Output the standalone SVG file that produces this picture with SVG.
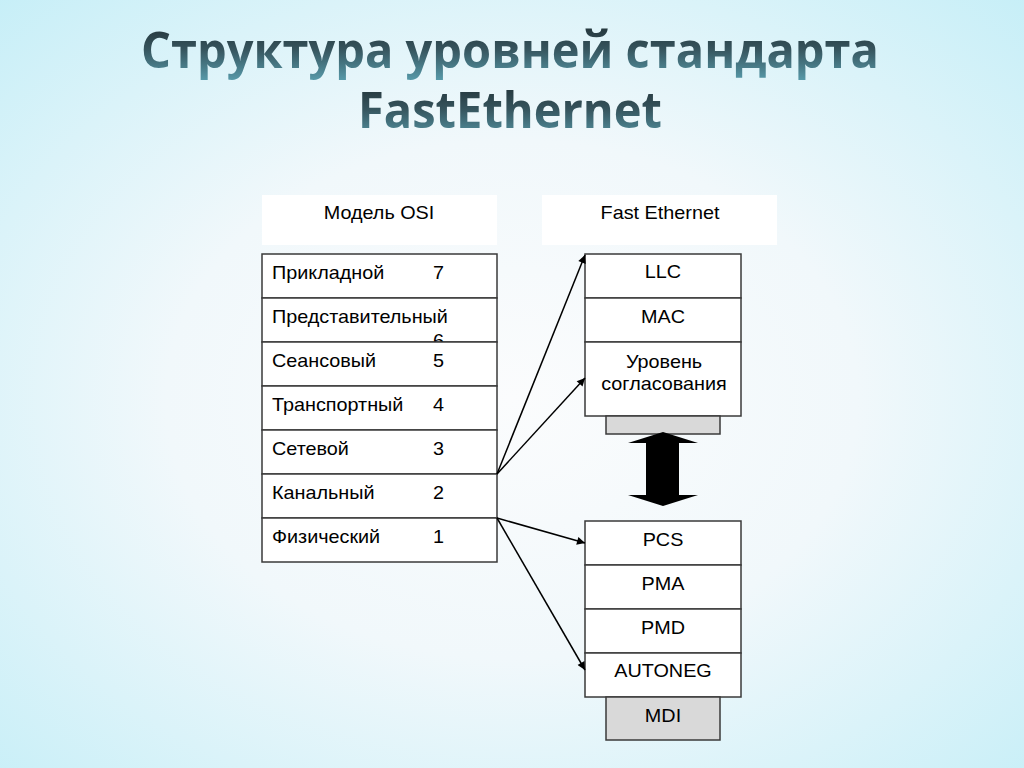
<svg xmlns="http://www.w3.org/2000/svg" width="1024" height="768" viewBox="0 0 1024 768">
<defs>
<radialGradient id="bg" cx="50%" cy="52%" r="75%">
<stop offset="0" stop-color="#fbfcfd"/>
<stop offset="0.45" stop-color="#f1f8fb"/>
<stop offset="1" stop-color="#c4eef7"/>
</radialGradient>
<linearGradient id="tg" x1="0" y1="0" x2="0" y2="1">
<stop offset="0" stop-color="#1c272b"/>
<stop offset="0.5" stop-color="#36545d"/>
<stop offset="1" stop-color="#5aa0b0"/>
</linearGradient>
<marker id="ah" viewBox="0 0 10 10" refX="10" refY="5" markerWidth="10" markerHeight="8" markerUnits="userSpaceOnUse" orient="auto">
<path d="M0,0 L10,5 L0,10 Z" fill="#000"/>
</marker>
<style>
.title{font-family:"Open Sans","DejaVu Sans",sans-serif;font-weight:bold;font-size:50px;fill:url(#tg)}
.box{fill:#fff;stroke:#3a3a3a;stroke-width:1.5}
.gray{fill:#d9d9d9;stroke:#3a3a3a;stroke-width:1.5}
.hdr{fill:#fff}
.t{font-family:"Liberation Sans",Arial,sans-serif;font-size:18px;fill:#000}
.c{text-anchor:middle}
.conn{stroke:#000;stroke-width:1.5;fill:none}
</style>
</defs>
<rect x="0" y="0" width="1024" height="768" fill="url(#bg)"/>
<g id="title">
<text class="title" x="510" y="68" text-anchor="middle" textLength="738" lengthAdjust="spacingAndGlyphs">Структура уровней стандарта</text>
<text class="title" x="510" y="128" text-anchor="middle" textLength="304" lengthAdjust="spacingAndGlyphs">FastEthernet</text>
</g>
<g id="hdr-osi">
<rect class="hdr" x="262" y="195" width="235" height="50"/>
<text class="t c" transform="translate(379,219) scale(1.1,1)">Модель OSI</text>
</g>
<g id="hdr-fe">
<rect class="hdr" x="542" y="195" width="235" height="50"/>
<text class="t c" transform="translate(660,219) scale(1.1,1)">Fast Ethernet</text>
</g>
<g id="osi-7"><rect class="box" x="262" y="254" width="235" height="44"/><text class="t" transform="translate(272,279) scale(1.1,1)">Прикладной</text><text class="t" transform="translate(433,279) scale(1.1,1)">7</text></g>
<g id="osi-6"><rect class="box" x="262" y="298" width="235" height="44"/><text class="t" transform="translate(272,323) scale(1.1,1)">Представительный</text><text class="t" transform="translate(433,347) scale(1.1,1)">6</text></g>
<g id="osi-5"><rect class="box" x="262" y="342" width="235" height="44"/><text class="t" transform="translate(272,367) scale(1.1,1)">Сеансовый</text><text class="t" transform="translate(433,367) scale(1.1,1)">5</text></g>
<g id="osi-4"><rect class="box" x="262" y="386" width="235" height="44"/><text class="t" transform="translate(272,411) scale(1.1,1)">Транспортный</text><text class="t" transform="translate(433,411) scale(1.1,1)">4</text></g>
<g id="osi-3"><rect class="box" x="262" y="430" width="235" height="44"/><text class="t" transform="translate(272,455) scale(1.1,1)">Сетевой</text><text class="t" transform="translate(433,455) scale(1.1,1)">3</text></g>
<g id="osi-2"><rect class="box" x="262" y="474" width="235" height="44"/><text class="t" transform="translate(272,499) scale(1.1,1)">Канальный</text><text class="t" transform="translate(433,499) scale(1.1,1)">2</text></g>
<g id="osi-1"><rect class="box" x="262" y="518" width="235" height="44"/><text class="t" transform="translate(272,543) scale(1.1,1)">Физический</text><text class="t" transform="translate(433,543) scale(1.1,1)">1</text></g>
<g id="fe-llc"><rect class="box" x="585" y="254" width="156" height="44"/><text class="t c" transform="translate(663,278) scale(1.1,1)">LLC</text></g>
<g id="fe-mac"><rect class="box" x="585" y="298" width="156" height="44"/><text class="t c" transform="translate(663,323) scale(1.1,1)">MAC</text></g>
<g id="fe-rs"><rect class="box" x="585" y="342" width="156" height="74"/><text class="t c" transform="translate(664,368) scale(1.1,1)">Уровень</text><text class="t c" transform="translate(664,390) scale(1.1,1)">согласования</text></g>
<g id="fe-mii"><rect class="gray" x="606" y="416" width="114" height="18"/></g>
<g id="fe-arrow"><path d="M663,432 L698,443 L679,443 L679,495 L698,495 L663,506 L628,495 L646,495 L646,443 L628,443 Z" fill="#000"/></g>
<g id="fe-pcs"><rect class="box" x="585" y="521" width="156" height="44"/><text class="t c" transform="translate(663,546) scale(1.1,1)">PCS</text></g>
<g id="fe-pma"><rect class="box" x="585" y="565" width="156" height="44"/><text class="t c" transform="translate(663,590) scale(1.1,1)">PMA</text></g>
<g id="fe-pmd"><rect class="box" x="585" y="609" width="156" height="44"/><text class="t c" transform="translate(663,634) scale(1.1,1)">PMD</text></g>
<g id="fe-autoneg"><rect class="box" x="585" y="653" width="156" height="44"/><text class="t c" transform="translate(663,677) scale(1.1,1)">AUTONEG</text></g>
<g id="fe-mdi"><rect class="gray" x="606" y="697" width="114" height="43"/><text class="t c" transform="translate(663,722) scale(1.1,1)">MDI</text></g>
<g id="connectors">
<line class="conn" x1="497" y1="474" x2="585" y2="255" marker-end="url(#ah)"/>
<line class="conn" x1="497" y1="474" x2="585" y2="378" marker-end="url(#ah)"/>
<line class="conn" x1="497" y1="518" x2="585" y2="543" marker-end="url(#ah)"/>
<line class="conn" x1="497" y1="518" x2="585" y2="670" marker-end="url(#ah)"/>
</g>
</svg>
